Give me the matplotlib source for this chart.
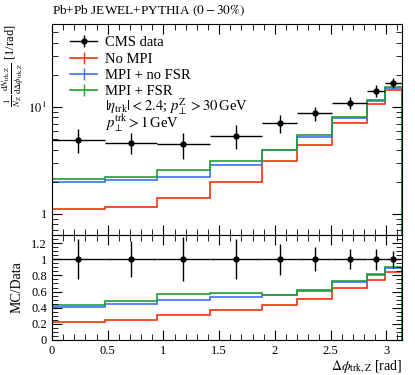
import numpy as np
import matplotlib
matplotlib.use("Agg")
import matplotlib.pyplot as plt
from matplotlib.lines import Line2D
from matplotlib.ticker import FixedLocator, FuncFormatter, MultipleLocator

# bin edges in delta phi (rad)
edges = np.array([0, 3, 6, 9, 12, 14, 16, 18, 19, 20]) * np.pi / 20
centers = 0.5 * (edges[1:] + edges[:-1])
half_w = 0.5 * (edges[1:] - edges[:-1])

cms_data = np.array([4.94, 4.66, 4.50, 5.42, 7.10, 8.79, 11.0, 14.3, 17.0])
cms_rel_err = np.array([0.25, 0.226, 0.27, 0.245, 0.19, 0.15, 0.125, 0.13, 0.105])

no_mpi = np.array([1.11, 1.17, 1.41, 2.01, 3.10, 4.46, 7.03, 10.7, 14.4])
mpi_no_fsr = np.array([2.00, 2.07, 2.24, 2.88, 3.95, 5.30, 7.89, 11.5, 15.2])
mpi_fsr = np.array([2.14, 2.24, 2.57, 3.14, 3.98, 5.46, 8.00, 11.7, 15.4])

mc_labels = ["No MPI", "MPI + no FSR", "MPI + FSR"]
mc_colors = ["#EE3311", "#3F6FFF", "#22A030"]

plt.rcParams["font.family"] = ["Liberation Serif", "DejaVu Serif"]
plt.rcParams["mathtext.fontset"] = "stix"

fig = plt.figure(figsize=(4.15, 3.75), dpi=100)
ax = fig.add_axes([52 / 415, 1 - 235 / 375, 350 / 415, 211 / 375])
rax = fig.add_axes([52 / 415, 1 - 340 / 375, 350 / 415, 105 / 375], sharex=ax)

mc_sets = [no_mpi, mpi_no_fsr, mpi_fsr]
for vals, col in zip(mc_sets, mc_colors):
    ax.stairs(vals, edges, color=col, lw=1.2)
    rax.stairs(vals / cms_data, edges, color=col, lw=1.2)

ax.errorbar(centers, cms_data, xerr=half_w, yerr=cms_data * cms_rel_err,
            fmt="o", ms=3.5, color="k", lw=1, capsize=0, zorder=5)
rax.errorbar(centers, np.ones_like(centers), xerr=half_w, yerr=cms_rel_err,
             fmt="o", ms=3.5, color="k", lw=1, capsize=0, zorder=5)

# main panel axes
ax.set_yscale("log")
ax.set_ylim(0.635, 60)
ax.set_xlim(0, np.pi)
ax.yaxis.set_major_locator(FixedLocator([1, 10]))
ax.yaxis.set_major_formatter(FuncFormatter(lambda v, p: "1" if v == 1 else r"$10^{\,1}$"))
ax.yaxis.set_minor_locator(FixedLocator([0.7, 0.8, 0.9, 2, 3, 4, 5, 6, 7, 8, 9,
                                         20, 30, 40, 50, 60]))
ax.yaxis.set_minor_formatter(FuncFormatter(lambda v, p: ""))
ax.xaxis.set_major_locator(MultipleLocator(0.5))
ax.xaxis.set_minor_locator(MultipleLocator(0.1))
ax.tick_params(labelbottom=False)
ax.set_ylabel(r"$\frac{1}{N_{\rm Z}}\,\frac{{\rm d}N_{\rm trk,Z}}{{\rm d}\Delta\phi_{\rm trk,Z}}$ [1/rad]",
              fontsize=9, loc="top")
ax.yaxis.set_label_coords(-0.075, 1.0)

# ratio panel axes
rax.set_ylim(0, 1.3)
rax.yaxis.set_major_locator(MultipleLocator(0.2))
rax.yaxis.set_minor_locator(MultipleLocator(0.05))
rax.yaxis.set_major_formatter(FuncFormatter(lambda v, p: "%g" % round(v, 2)))
rax.xaxis.set_major_formatter(FuncFormatter(lambda v, p: "%g" % round(v, 2)))
rax.set_ylabel("MC/Data", fontsize=10)
rax.yaxis.set_label_coords(-0.08, 0.5)
rax.set_xlabel(r"$\Delta\phi_{\rm trk,Z}$ [rad]", fontsize=10, loc="right", labelpad=1)

for a in (ax, rax):
    a.tick_params(which="both", direction="in", top=True, right=True, labelsize=9)
    a.tick_params(which="major", length=7, width=0.8)
    a.tick_params(which="minor", length=4, width=0.6)
    for s in a.spines.values():
        s.set_linewidth(0.8)

# legend
handles = [(Line2D([], [], color="k", lw=1),
            Line2D([], [], color="k", marker="o", ms=3.5, ls="none"),
            Line2D([], [], color="k", marker="|", ms=9, ls="none"))]
for col in mc_colors:
    handles.append(Line2D([], [], color=col, lw=1.2, marker="|", ms=9))
ax.legend(handles, ["CMS data"] + mc_labels, loc="upper left",
          bbox_to_anchor=(0.014, 1.004), frameon=False, fontsize=10.5,
          handlelength=1.85, handletextpad=0.55, labelspacing=0.2)
ax.text(0.151, 0.588, r"$|\eta_{\rm trk}| < 2.4$; $p_\perp^{\rm Z} > 30\,$GeV",
        transform=ax.transAxes, fontsize=10.5, va="baseline")
ax.text(0.151, 0.508, r"$p_\perp^{\rm trk} > 1\,$GeV",
        transform=ax.transAxes, fontsize=10.5, va="baseline")

fig.text(52 / 415, 1 - 11 / 375, r"Pb+Pb JEWEL+PYTHIA $(0-30\%)$", fontsize=9.5, va="center")

fig.savefig("out.png", dpi=100)
